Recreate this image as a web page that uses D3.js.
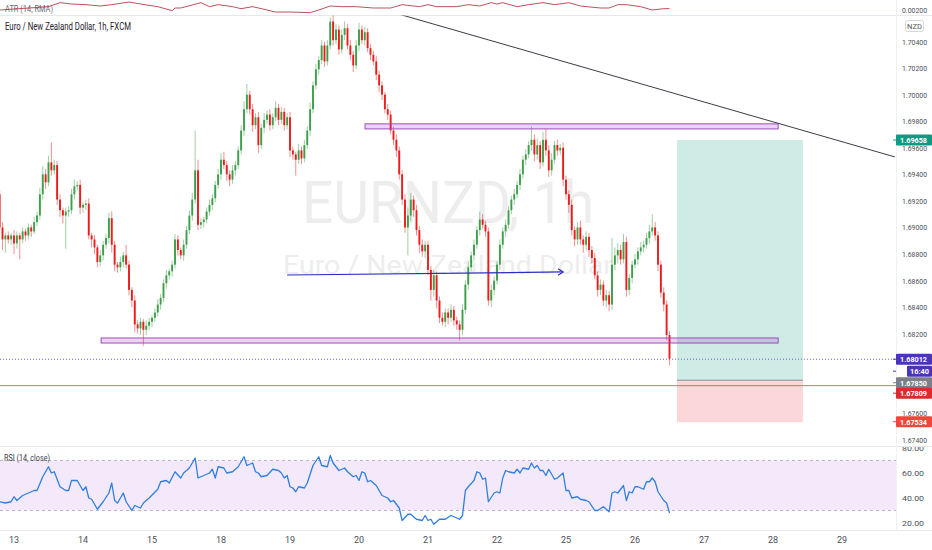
<!DOCTYPE html>
<html><head><meta charset="utf-8">
<script src="https://cdn.jsdelivr.net/npm/d3@7"></script>
<style>html,body{margin:0;padding:0;background:#fff;overflow:hidden}svg{display:block;font-family:Roboto,"Liberation Sans",sans-serif}</style>
</head><body><svg id="c" width="932" height="550"></svg>
<script>
// ---------- DATA ----------
const dayLabels = ["13","14","15","18","19","20","21","22","25","26","27","28","29"];
const dayStartIdx = [5,29,53,77,101,125,149,173,197,221,245,269,293];
const firstOpen = 1.6925;
const closes = [
1.6900,1.6891,1.6894,1.6891,1.6894,1.6888,1.6894,1.6891,1.6897,1.6894,
1.6900,1.6897,1.6904,1.6909,1.6925,1.6940,1.6934,1.6949,1.6943,1.6947,
1.6921,1.6913,1.6909,1.6912,1.6913,1.6925,1.6931,1.6932,1.6915,1.6917,
1.6918,1.6894,1.6891,1.6885,1.6874,1.6879,1.6887,1.6892,1.6907,1.6887,
1.6872,1.6870,1.6874,1.6879,1.6872,1.6853,1.6845,1.6827,1.6824,1.6829,
1.6823,1.6826,1.6829,1.6832,1.6836,1.6842,1.6847,1.6858,1.6864,1.6867,
1.6872,1.6891,1.6883,1.6879,1.6887,1.6898,1.6909,1.6921,1.6943,1.6902,
1.6904,1.6906,1.6912,1.6917,1.6922,1.6932,1.6940,1.6951,1.6947,1.6940,
1.6936,1.6943,1.6947,1.6958,1.6973,1.6989,1.7000,1.6989,1.6977,1.6983,
1.6962,1.6975,1.6981,1.6985,1.6977,1.6983,1.6990,1.6981,1.6987,1.6977,
1.6983,1.6958,1.6955,1.6951,1.6958,1.6952,1.6962,1.6973,1.6989,1.7007,
1.7019,1.7026,1.7037,1.7025,1.7037,1.7055,1.7041,1.7049,1.7034,1.7045,
1.7050,1.7037,1.7030,1.7022,1.7037,1.7049,1.7041,1.7047,1.7035,1.7030,
1.7025,1.7015,1.7007,1.7000,1.6989,1.6985,1.6973,1.6966,1.6958,1.6940,
1.6921,1.6900,1.6909,1.6921,1.6913,1.6898,1.6887,1.6882,1.6887,1.6868,
1.6853,1.6864,1.6845,1.6832,1.6829,1.6836,1.6832,1.6838,1.6830,1.6827,
1.6823,1.6838,1.6857,1.6870,1.6879,1.6887,1.6898,1.6906,1.6902,1.6897,
1.6845,1.6853,1.6860,1.6872,1.6887,1.6897,1.6902,1.6913,1.6921,1.6925,
1.6932,1.6940,1.6951,1.6955,1.6962,1.6966,1.6955,1.6962,1.6949,1.6966,
1.6958,1.6943,1.6951,1.6962,1.6958,1.6960,1.6936,1.6925,1.6917,1.6898,
1.6891,1.6900,1.6891,1.6887,1.6893,1.6883,1.6877,1.6864,1.6853,1.6857,
1.6845,1.6849,1.6842,1.6872,1.6879,1.6883,1.6876,1.6889,1.6853,1.6862,
1.6872,1.6876,1.6882,1.6885,1.6887,1.6892,1.6897,1.6900,1.6894,1.6872,
1.6851,1.6842,1.6819,1.68012];
const upWickPips = [
3,4,2,3,2,4,3,2,3,2, 3,2,4,3,5,6,4,5,15,4, 3,4,2,3,3,4,5,3,4,2, 3,4,2,3,2,4,3,3,4,5,
3,2,4,3,8,3,2,4,3,3, 2,4,3,2,3,4,3,3,4,2, 3,4,3,2,4,3,4,5,30,8, 3,2,3,4,3,3,4,5,6,3,
3,4,3,3,4,6,8,3,4,3, 4,3,5,3,4,3,5,3,4,3, 3,4,3,2,5,3,4,3,5,3, 4,3,4,3,4,3,6,4,3,4,
5,3,4,3,4,5,3,4,3,3, 3,4,3,3,2,4,3,3,4,3, 3,4,6,5,3,4,3,4,3,3, 3,4,3,3,4,3,3,4,3,3,
3,4,3,4,3,4,3,6,4,3, 3,4,3,3,4,3,4,3,3,4, 3,4,3,4,3,10,4,5,3,6, 8,4,5,3,4,3,4,3,3,4,
3,4,5,3,4,3,3,4,3,4, 3,4,3,20,6,5,4,6,4,3, 3,4,3,4,3,4,5,10,4,3, 3,4,3,3];
const downWickPips = [
2,8,10,3,4,8,4,15,3,4, 3,4,2,3,3,4,5,3,4,3, 4,5,6,25,4,3,4,3,5,4, 4,3,6,5,4,3,4,3,4,6,
5,4,3,4,3,4,5,6,4,5, 12,4,3,4,3,3,4,3,4,3, 4,3,4,3,4,3,3,4,3,4, 3,4,3,3,4,3,3,4,3,5,
5,3,4,3,3,4,3,4,5,3, 6,3,4,3,4,3,3,4,3,4, 3,5,4,12,3,4,3,3,4,3, 3,4,3,4,3,3,4,3,4,3,
4,3,4,5,3,4,3,4,3,4, 3,4,5,4,3,4,3,4,5,4, 4,4,21,4,5,4,6,4,5,4, 8,5,6,4,3,4,5,3,4,4,
8,4,3,4,3,4,3,4,3,4, 4,5,4,3,4,3,4,3,3,4, 3,4,3,4,3,4,5,4,5,3, 4,5,4,3,4,3,5,4,6,4,
5,4,4,6,4,5,4,3,5,4, 4,5,5,4,4,6,4,3,5,4, 4,3,4,3,4,3,4,3,4,5, 4,5,4,5];
const rsiIdx = [0,2,4,5,6,8,12,13,15,16,17,18,19,21,23,24,25,27,29,30,31,32,34,36,38,39,40,41,43,44,46,47,49,50,52,55,56,58,59,61,63,64,66,68,69,71,73,74,75,76,78,79,81,83,85,86,88,89,90,91,93,95,97,98,99,100,101,102,103,104,106,107,109,111,112,114,115,116,118,120,121,123,124,125,126,127,128,129,131,132,133,135,136,137,139,140,142,143,145,147,148,149,150,151,153,155,157,158,160,161,162,163,165,166,167,168,169,170,172,173,174,175,176,177,179,180,181,182,184,185,186,187,188,189,190,191,193,194,196,197,198,199,201,202,204,205,207,208,210,211,212,213,214,215,217,218,219,220,221,222,224,225,226,227,228,229,231,232,233];
const rsiVal = [37,36,37,41,38,42,46,46,57,61,65,60,61,49,46,46,54,54,46,49,40,39,31,37,44,52,38,36,44,37,30,34,32,36,40,47,53,54,52,61,56,60,64,72,56,58,60,63,56,65,64,60,61,65,73,66,68,61,60,57,58,63,62,60,56,58,49,48,45,49,48,52,66,73,66,65,74,68,62,64,61,57,58,54,61,60,53,54,50,46,42,40,37,38,32,22,27,27,23,22,26,22,23,19,23,23,26,25,23,26,46,49,54,61,60,55,56,37,44,45,44,56,62,61,60,63,60,64,63,68,64,66,62,62,58,63,55,56,60,46,46,40,41,39,38,37,30,30,33,31,29,44,45,44,50,38,45,44,49,49,47,53,53,56,53,45,38,36,28];
const atrIdx = [0,17,21,25,30,35,39,45,49,55,60,61,63,70,73,76,81,84,88,96,101,108,111,115,119,124,130,136,140,146,149,152,159,163,167,171,173,175,180,184,189,193,198,202,209,212,215,218,223,227,231,233];
const atrVal = [0.00200,0.00205,0.00211,0.00209,0.00208,0.00206,0.00208,0.00212,0.00209,0.00205,0.00199,0.00203,0.00203,0.00211,0.00205,0.00208,0.00205,0.00202,0.00205,0.00197,0.00197,0.00196,0.00200,0.00206,0.00205,0.00205,0.00203,0.00203,0.00208,0.00205,0.00208,0.00205,0.00205,0.00208,0.00206,0.00211,0.00209,0.00211,0.00205,0.00208,0.00211,0.00208,0.00211,0.00206,0.00203,0.00203,0.00208,0.00208,0.00205,0.00200,0.00202,0.00202];
const priceTicks = [1.704,1.702,1.700,1.698,1.696,1.694,1.692,1.690,1.688,1.686,1.684,1.682,1.680,1.678,1.676,1.674];
const rsiTicks = [80,60,40,20];
const rsiBand = [70,30];
const atrTick = 0.002;
// drawings (time index, price)
const upperZone = {t0:127.1, t1:270.8, top:1.69780, bottom:1.69742};
const lowerZone = {t0:35.3, t1:270.8, top:1.68168, bottom:1.68130};
const trendPts = [[138.6,1.70608],[311.4,1.69531]];
const arrowPts = [[100,1.68642],[196,1.68665]];
const position = {t0:235.6, t1:279.4, target:1.69658, entry:1.67850, stop:1.67534};
const lastPrice = 1.68012, countdown = "16:40";
const redLevel = 1.67809;
const title = "Euro / New Zealand Dollar, 1h, FXCM";

// ---------- LAYOUT ----------
const svg = d3.select("#c");
const W = 932, H = 550, paneR = 896;
const x = d3.scaleLinear().domain([5,293]).range([14,842]);
const y = d3.scaleLinear().domain([1.674,1.704]).range([440,41.5]);
const yR = d3.scaleLinear().domain([20,60]).range([523,473]);
const yA = d3.scaleLinear().domain([0.002,0.00215]).range([10,0]);
const fmt5 = d3.format(".5f");
const axisCol = "#4c4f59";

const defs = svg.append("defs");
defs.append("clipPath").attr("id","pp").append("rect").attr("x",0).attr("y",15.5).attr("width",paneR).attr("height",431);
defs.append("clipPath").attr("id","rp").append("rect").attr("x",0).attr("y",447).attr("width",W).attr("height",84);

svg.append("rect").attr("width",W).attr("height",H).attr("fill","#fff");

// separators
[15.5,446.5,530.5].forEach(v=>svg.append("line").attr("x1",0).attr("x2",W).attr("y1",v).attr("y2",v).attr("stroke","#e6e8ee").attr("stroke-width",1));
svg.append("line").attr("x1",paneR+0.5).attr("x2",paneR+0.5).attr("y1",0).attr("y2",531).attr("stroke","#eef0f4");

// ---------- ATR pane ----------
svg.append("text").attr("x",5).attr("y",12).attr("font-size",9).attr("fill","#6a6d78").attr("textLength",48).attr("lengthAdjust","spacingAndGlyphs").text("ATR (14, RMA)");
svg.append("path").datum(atrIdx.map((d,k)=>[d,atrVal[k]]))
  .attr("d",d3.line().x(d=>x(d[0])).y(d=>yA(d[1])))
  .attr("fill","none").attr("stroke","#b5313f").attr("stroke-width",1).attr("opacity",0.85);
svg.append("text").attr("x",902).attr("y",13).attr("font-size",8).attr("fill",axisCol).attr("textLength",25).attr("lengthAdjust","spacingAndGlyphs").text(fmt5(atrTick));

// ---------- Price pane ----------
const pp = svg.append("g").attr("clip-path","url(#pp)");
// watermark
pp.append("text").attr("x",448).attr("y",223).attr("text-anchor","middle").attr("font-size",60).attr("fill","#000").attr("opacity",0.065).attr("textLength",292).attr("lengthAdjust","spacingAndGlyphs").text("EURNZD, 1h");
pp.append("text").attr("x",448).attr("y",274).attr("text-anchor","middle").attr("font-size",25).attr("fill","#000").attr("opacity",0.065).attr("textLength",330).attr("lengthAdjust","spacingAndGlyphs").text("Euro / New Zealand Dollar");

// position tool
pp.append("rect").attr("x",x(position.t0)).attr("width",x(position.t1)-x(position.t0))
  .attr("y",y(position.target)).attr("height",y(position.entry)-y(position.target)).attr("fill","rgba(8,153,129,0.2)");
pp.append("rect").attr("x",x(position.t0)).attr("width",x(position.t1)-x(position.t0))
  .attr("y",y(position.entry)).attr("height",y(position.stop)-y(position.entry)).attr("fill","rgba(242,54,69,0.2)");
pp.append("line").attr("x1",x(position.t0)).attr("x2",x(position.t1)).attr("y1",y(position.entry)).attr("y2",y(position.entry)).attr("stroke","#8a8d96").attr("stroke-width",1);

// red level & last price line
pp.append("line").attr("x1",0).attr("x2",paneR).attr("y1",y(redLevel)).attr("y2",y(redLevel)).attr("stroke","#d9464e").attr("stroke-width",1).attr("opacity",0.8);
pp.append("line").attr("x1",0).attr("x2",paneR).attr("y1",y(lastPrice)+0.5).attr("y2",y(lastPrice)+0.5).attr("stroke","#6b5fcf").attr("stroke-width",1).attr("stroke-dasharray","1,2");

// candles
const candles = closes.map((c,i)=>{
  const o = i===0 ? firstOpen : closes[i-1];
  return {i, o, c, h: Math.max(o,c)+upWickPips[i]*0.0001, l: Math.min(o,c)-downWickPips[i]*0.0001};
});
const up = "#3d9f4a", dn = "#ee1b1b";
const cg = pp.append("g");
cg.selectAll("line.w").data(candles).join("line").attr("class","w")
  .attr("x1",d=>x(d.i)).attr("x2",d=>x(d.i)).attr("y1",d=>y(d.h)).attr("y2",d=>y(d.l))
  .attr("stroke",d=>d.c>=d.o?up:dn).attr("stroke-width",0.9).attr("opacity",0.55);
cg.selectAll("rect.b").data(candles).join("rect").attr("class","b")
  .attr("x",d=>x(d.i)-0.95).attr("width",1.9)
  .attr("y",d=>y(Math.max(d.o,d.c))).attr("height",d=>Math.max(1,Math.abs(y(d.o)-y(d.c))))
  .attr("fill",d=>d.c>=d.o?up:dn);

// zones
[upperZone,lowerZone].forEach(z=>{
  pp.append("rect").attr("x",x(z.t0)).attr("width",x(z.t1)-x(z.t0)).attr("y",y(z.top)).attr("height",y(z.bottom)-y(z.top))
    .attr("fill","rgba(156,39,176,0.2)").attr("stroke","#a04bc0").attr("stroke-width",1);
});
// trendline
pp.append("line").attr("x1",x(trendPts[0][0])).attr("y1",y(trendPts[0][1])).attr("x2",x(trendPts[1][0])).attr("y2",y(trendPts[1][1])).attr("stroke","#3a3d46").attr("stroke-width",1);
// arrow
const ax1=x(arrowPts[0][0]), ay1=y(arrowPts[0][1]), ax2=x(arrowPts[1][0]), ay2=y(arrowPts[1][1]);
pp.append("line").attr("x1",ax1).attr("y1",ay1).attr("x2",ax2).attr("y2",ay2).attr("stroke","#2d2dc4").attr("stroke-width",1.2);
pp.append("path").attr("d",`M${ax2-5},${ay2-3.2}L${ax2},${ay2}L${ax2-5},${ay2+3.2}`).attr("fill","none").attr("stroke","#2d2dc4").attr("stroke-width",1.2);

// title
svg.append("text").attr("x",5).attr("y",30).attr("font-size",10).attr("fill","#1f222b").attr("textLength",126).attr("lengthAdjust","spacingAndGlyphs").text(title);

// price axis (labels hidden behind price tags are not drawn)
const tagCenters = [y(lastPrice), y(position.entry)+2.5, y(redLevel)+7.5];
const pa = svg.append("g");
pa.selectAll("text").data(priceTicks.filter(t=>tagCenters.every(c=>Math.abs(y(t)-c)>5))).join("text").attr("x",902).attr("y",d=>y(d)+3).attr("font-size",8).attr("fill",axisCol)
  .attr("textLength",25).attr("lengthAdjust","spacingAndGlyphs").text(d=>fmt5(d));
// NZD
svg.append("rect").attr("x",905.5).attr("y",20.5).attr("width",18).attr("height",11).attr("rx",2).attr("fill","#fff").attr("stroke","#d6d8de");
svg.append("text").attr("x",914.5).attr("y",29).attr("text-anchor","middle").attr("font-size",7.5).attr("fill","#555").text("NZD");

// price labels
function tag(yc, color, txt, x0){
  const xx = x0||paneR;
  svg.append("rect").attr("x",xx).attr("y",yc-5.5).attr("width",W-xx).attr("height",11).attr("fill",color).attr("rx",1);
  svg.append("line").attr("x1",paneR-3).attr("x2",paneR).attr("y1",yc).attr("y2",yc).attr("stroke",color);
  svg.append("text").attr("x",x0? xx+3 : 900).attr("y",yc+2.8).attr("font-size",8).attr("font-weight","bold").attr("fill","#fff")
    .attr("textLength", x0? 19 : 27).attr("lengthAdjust","spacingAndGlyphs").text(txt);
}
tag(y(position.target), "#0e9a82", fmt5(position.target));
tag(y(lastPrice)+0.5, "#4b34b8", fmt5(lastPrice));
tag(y(lastPrice)+12.5, "#4b34b8", countdown, 907);
tag(y(position.entry)+2.5, "#7c7f89", fmt5(position.entry));
tag(y(redLevel)+7.5, "#dc2a2f", fmt5(redLevel));
tag(y(position.stop)-0.5, "#f0473a", fmt5(position.stop));

// ---------- RSI pane ----------
const rp = svg.append("g").attr("clip-path","url(#rp)");
rp.append("rect").attr("x",0).attr("width",paneR).attr("y",yR(rsiBand[0])).attr("height",yR(rsiBand[1])-yR(rsiBand[0])).attr("fill","#f3e9fb");
rsiBand.forEach(v=>rp.append("line").attr("x1",0).attr("x2",paneR).attr("y1",yR(v)).attr("y2",yR(v)).attr("stroke","#c2b1cc").attr("stroke-dasharray","3,3"));
rp.append("path").datum(rsiIdx.map((d,k)=>[d,rsiVal[k]]))
  .attr("d",d3.line().x(d=>x(d[0])).y(d=>yR(d[1])))
  .attr("fill","none").attr("stroke","#2f7fe0").attr("stroke-width",1.3).attr("stroke-linejoin","round");
rp.append("text").attr("x",4).attr("y",461).attr("font-size",9).attr("fill","#3b3e48").attr("textLength",46).attr("lengthAdjust","spacingAndGlyphs").text("RSI (14, close)");
rp.selectAll("text.rt").data(rsiTicks).join("text").attr("class","rt").attr("x",902).attr("y",d=>yR(d)+3).attr("font-size",8).attr("fill",axisCol)
  .attr("textLength",22).attr("lengthAdjust","spacingAndGlyphs").text(d=>d3.format(".2f")(d));

// ---------- time axis ----------
svg.append("g").selectAll("text").data(dayStartIdx).join("text").attr("x",d=>x(d)).attr("y",543).attr("text-anchor","middle")
  .attr("font-size",9).attr("fill",axisCol).text((d,k)=>dayLabels[k]);
</script></body></html>
